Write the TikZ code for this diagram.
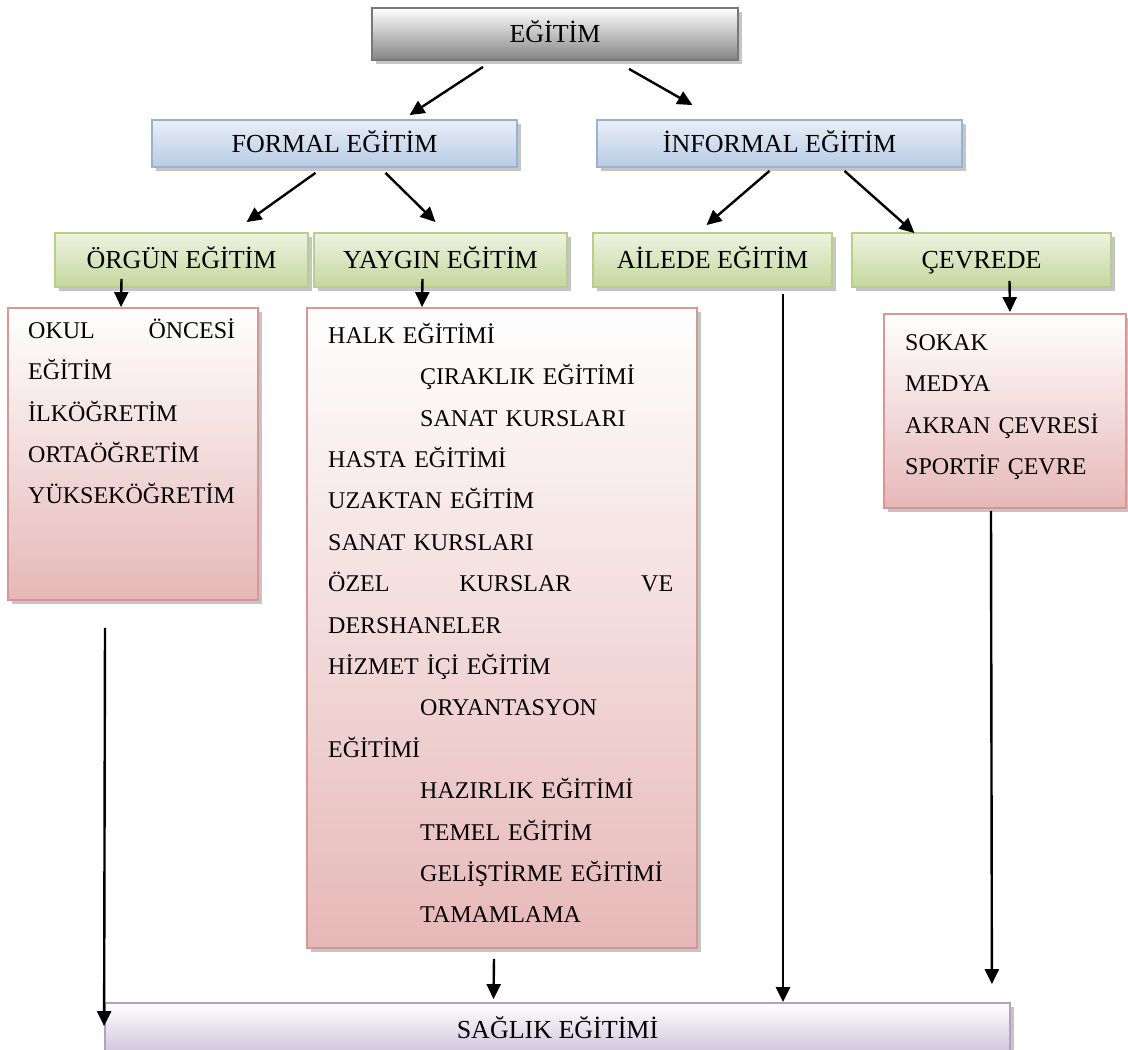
\documentclass[tikz,border=0pt]{standalone}
\usepackage{fontspec}
\setmainfont{Liberation Serif}
\usetikzlibrary{arrows.meta,shadows}

\definecolor{graydraw}{RGB}{120,120,120}
\definecolor{bluetop}{RGB}{232,239,248}
\definecolor{bluebot}{RGB}{184,204,228}
\definecolor{bluedraw}{RGB}{149,179,215}
\definecolor{greentop}{RGB}{238,243,226}
\definecolor{greenbot}{RGB}{196,215,157}
\definecolor{greendraw}{RGB}{184,206,140}
\definecolor{pinkbot}{RGB}{230,184,183}
\definecolor{pinkdraw}{RGB}{217,150,148}
\definecolor{lilacbot}{RGB}{204,192,218}
\definecolor{lilacdraw}{RGB}{178,161,199}

\tikzset{
  box/.style={draw, line width=1.8pt, inner sep=0pt,
    font=\fontsize{26}{30}\selectfont, text height=20pt, text depth=3pt,
    drop shadow={shadow xshift=4pt, shadow yshift=-4pt, fill=black!45}},
  topbox/.style={box, draw=graydraw, top color=white, bottom color=black!48},
  bluebox/.style={box, draw=bluedraw, top color=bluetop, bottom color=bluebot},
  greenbox/.style={box, draw=greendraw, top color=greentop, bottom color=greenbot},
  pinkbox/.style={box, draw=pinkdraw, top color=white, bottom color=pinkbot},
  lilacbox/.style={box, draw=lilacdraw, top color=white, bottom color=lilacbot},
  list/.style={inner sep=0pt, anchor=north west, align=left,
    font=\fontsize{24}{41.4}\selectfont},
  arr/.style={-{Triangle[length=15pt,width=14pt]}, line width=2.4pt},
}
\newcommand{\ind}{\hspace*{92pt}}
\newcommand{\tall}{\rule{0pt}{24pt}}

\begin{document}
\begin{tikzpicture}[x=1pt,y=-1pt]
  \useasboundingbox (0,0) rectangle (1128,1050);

  % levels
  \node[topbox, minimum width=366pt, minimum height=52pt] (egitim) at (555,34) {EĞİTİM};
  \node[bluebox, minimum width=365pt, minimum height=47pt] (formal) at (334.5,143.5) {FORMAL EĞİTİM};
  \node[bluebox, minimum width=365pt, minimum height=47pt] (informal) at (779.5,143.5) {İNFORMAL EĞİTİM};
  \node[greenbox, minimum width=253pt, minimum height=54pt] (orgun) at (181.5,260) {ÖRGÜN EĞİTİM};
  \node[greenbox, minimum width=253pt, minimum height=54pt] (yaygin) at (440.5,260) {YAYGIN EĞİTİM};
  \node[greenbox, minimum width=239pt, minimum height=54pt] (ailede) at (712.5,260) {AİLEDE EĞİTİM};
  \node[greenbox, minimum width=259pt, minimum height=54pt] (cevrede) at (981.5,260) {ÇEVREDE};

  % lists
  \node[pinkbox, minimum width=250pt, minimum height=292pt] (okul) at (133,454) {};
  \node[pinkbox, minimum width=390pt, minimum height=640pt] (halk) at (502,628) {};
  \node[pinkbox, minimum width=242pt, minimum height=194pt] (sokak) at (1005,411) {};
  \node[list, text width=207pt] (okultext) at (28,314)
    {\tall OKUL\hfill ÖNCESİ\\EĞİTİM\\İLKÖĞRETİM\\ORTAÖĞRETİM\\YÜKSEKÖĞRETİM};
  \node[list, text width=345pt] (halktext) at (328,319)
    {\tall HALK EĞİTİMİ\\
     \ind ÇIRAKLIK EĞİTİMİ\\
     \ind SANAT KURSLARI\\
     HASTA EĞİTİMİ\\
     UZAKTAN EĞİTİM\\
     SANAT KURSLARI\\
     ÖZEL\hfill KURSLAR\hfill VE\\
     DERSHANELER\\
     HİZMET İÇİ EĞİTİM\\
     \ind ORYANTASYON\\
     EĞİTİMİ\\
     \ind HAZIRLIK EĞİTİMİ\\
     \ind TEMEL EĞİTİM\\
     \ind GELİŞTİRME EĞİTİMİ\\
     \ind TAMAMLAMA};
  \node[list, text width=210pt] (sokaktext) at (905,326)
    {\tall SOKAK\\MEDYA\\AKRAN ÇEVRESİ\\SPORTİF ÇEVRE};

  \node[lilacbox, minimum width=905pt, minimum height=54pt] (saglik) at (557.5,1030) {SAĞLIK EĞİTİMİ};

  % connectors
  \draw[arr] ([shift={(-72,6)}]egitim.south) -- ([shift={(75,-4)}]formal.north);
  \draw[arr] ([shift={(74,8)}]egitim.south) -- ([shift={(-87,-14)}]informal.north);
  \draw[arr] ([shift={(-19,5)}]formal.south) -- ([shift={(65,-10)}]orgun.north);
  \draw[arr] ([shift={(51,5)}]formal.south) -- ([shift={(-5,-10)}]yaygin.north);
  \draw[arr] ([shift={(-10,3)}]informal.south) -- ([shift={(-6,-7)}]ailede.north);
  \draw[arr] ([shift={(65,3)}]informal.south) -- ([shift={(-67,1)}]cevrede.north);
  \draw[arr] ([shift={(-60,-9)}]orgun.south) -- ([shift={(-12,0)}]okul.north);
  \draw[arr] ([shift={(-18,-9)}]yaygin.south) -- ([shift={(-80,0)}]halk.north);
  \draw[arr] ([shift={(28,-7)}]cevrede.south) -- ([shift={(5,-1)}]sokak.north);
  \draw[arr] ([shift={(70.5,6)}]ailede.south) -- ([shift={(225.5,0)}]saglik.north);
  \draw[arr] ([shift={(-28,27)}]okul.south) -- ([shift={(0,24)}]saglik.north west);
  \draw[arr] ([shift={(-8,10)}]halk.south) -- ([shift={(-64,-3)}]saglik.north);
  \draw[arr] ([shift={(-14,2)}]sokak.south) -- ([shift={(-19,-18)}]saglik.north east);
\end{tikzpicture}
\end{document}
